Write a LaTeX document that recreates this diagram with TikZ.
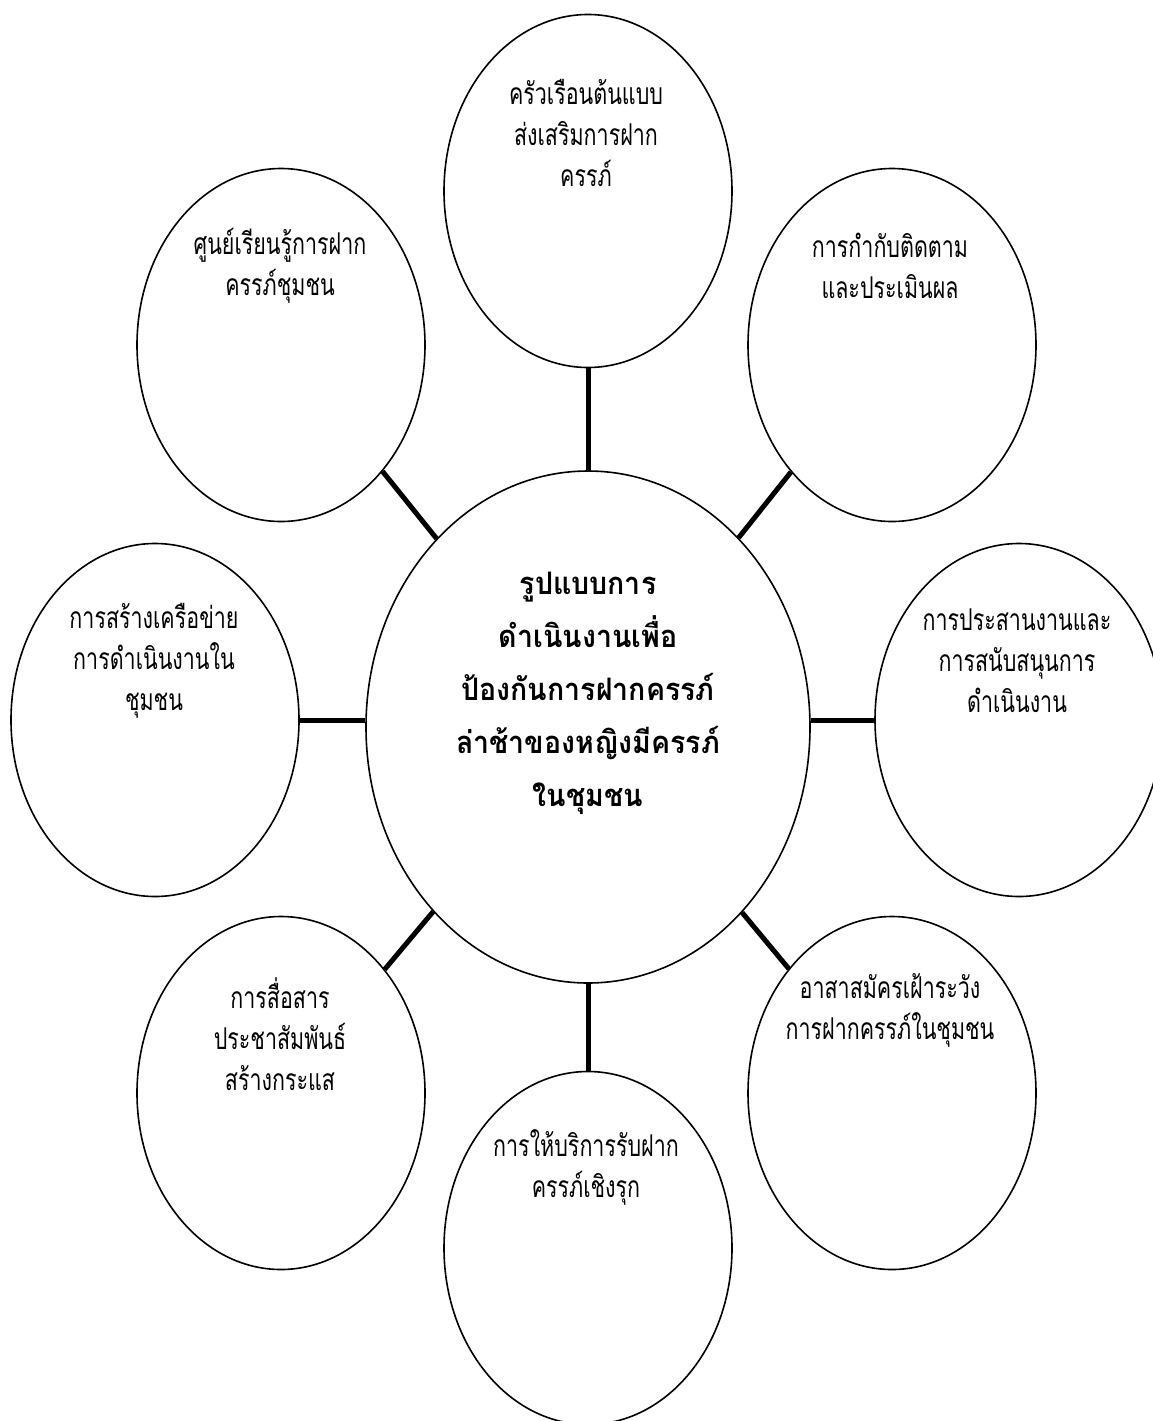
\documentclass[tikz,border=0pt]{standalone}
\usepackage{fontspec}
\newfontfamily\thaifont[Script=Thai,FakeStretch=0.92]{Loma}
\newfontfamily\thaicond[Script=Thai,FakeStretch=0.715]{Loma}
\usetikzlibrary{shapes.geometric}
\begin{document}
\begin{tikzpicture}[x=1pt,y=-1pt,
  outer/.style={ellipse,draw,line width=1.6pt,minimum width=288pt,minimum height=353pt,inner sep=0pt},
  hub/.style={ellipse,draw,line width=1.6pt,minimum width=444pt,minimum height=512pt,inner sep=0pt},
  link/.style={line width=5pt},
  lbl/.style={align=center,font=\thaicond\fontsize{30}{41}\selectfont,inner sep=0pt},
  hublbl/.style={align=center,font=\thaifont\bfseries\fontsize{31}{53}\selectfont,inner sep=0pt}]
\useasboundingbox (0,0) rectangle (1153,1421);
\fill[white] (0,0) rectangle (1153,1421);
% ellipses
\node[hub] (c) at (588,727) {};
\node[outer] (t) at (588,191) {};
\node[outer] (tl) at (281,345) {};
\node[outer] (tr) at (892,345) {};
\node[outer] (l) at (155,720) {};
\node[outer] (r) at (1019,720) {};
\node[outer] (bl) at (281,1093) {};
\node[outer] (br) at (892,1093) {};
\node[outer] (b) at (588,1248) {};
% connectors
\draw[link] (t.south) -- (c.north);
\draw[link] (b.north) -- (c.south);
\draw[link] (l.east) -- (l.east -| c.west);
\draw[link] (r.west) -- (r.west -| c.east);
\draw[link] (tl) -- (c);
\draw[link] (tr) -- (c);
\draw[link] (bl) -- (c);
\draw[link] (br) -- (c);
% labels
\node[hublbl] (ct) at (588,693) {รูปแบบการ\\ดำเนินงานเพื่อ\\ป้องกันการฝากครรภ์\\ล่าช้าของหญิงมีครรภ์\\ในชุมชน};
\node[lbl] (tt) at (586,133) {ครัวเรือนต้นแบบ\\ส่งเสริมการฝาก\\ครรภ์};
\node[lbl] (tlt) at (280,266) {ศูนย์เรียนรู้การฝาก\\ครรภ์ชุมชน};
\node[lbl] (trt) at (890,266) {การกำกับติดตาม\\และประเมินผล};
\node[lbl] (lt) at (154,661) {การสร้างเครือข่าย\\การดำเนินงานใน\\ชุมชน};
\node[lbl] (rt) at (1017,661) {การประสานงานและ\\การสนับสนุนการ\\ดำเนินงาน};
\node[lbl] (blt) at (280,1034) {การสื่อสาร\\ประชาสัมพันธ์\\สร้างกระแส};
\node[lbl] (brt) at (890,1010) {อาสาสมัครเฝ้าระวัง\\การฝากครรภ์ในชุมชน};
\node[lbl] (bt) at (586,1167) {การให้บริการรับฝาก\\ครรภ์เชิงรุก};
\end{tikzpicture}
\end{document}
